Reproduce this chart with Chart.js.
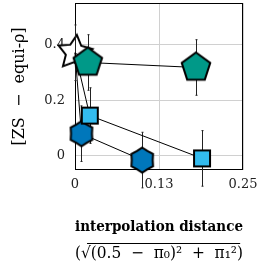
<!DOCTYPE html>
<html><head><meta charset="utf-8">
<script src="https://cdn.jsdelivr.net/npm/chart.js@4"></script>
<style>html,body{margin:0;padding:0;background:#fff}canvas{display:block}</style>
</head><body>
<canvas id="c" width="259" height="273"></canvas>
<script>
// ---- data ----
const xTickValues = [0, 0.125, 0.25];
const xTickLabels = ['0', '0.13', '0.25'];
const yTickValues = [0, 0.2, 0.4];
const yTickLabels = ['0', '0.2', '0.4'];

const baselineX = [0];
const baselineY = [0.371];
const baselineErr = [0.1];

const tealX = [0, 0.019, 0.180];
const tealY = [0.371, 0.336, 0.318];
const tealErr = [null, 0.1, 0.1];

const cyanX = [0, 0.022, 0.189];
const cyanY = [0.371, 0.145, -0.009];
const cyanErr = [null, 0.1, 0.1];

const blueX = [0, 0.0096, 0.100];
const blueY = [0.371, 0.080, -0.015];
const blueErr = [null, 0.1, 0.1];

const xTitle = 'interpolation distance';
const xSubTitle = '(√(0.5  −  π₀)²  +  π₁²)';
const subPrefix = '(√';
const yTitle = '[ZS  −  equi-ρ]';

// ---- marker images ----
function marker(r, draw) {
  const s = Math.ceil(2 * (r + 3));
  const c = document.createElement('canvas'); c.width = s; c.height = s;
  const g = c.getContext('2d'); g.translate(s / 2, s / 2); draw(g); return c;
}
function polyStar(g, n, R, ratio, rotDeg, fill) {
  g.beginPath();
  const steps = ratio ? 2 * n : n;
  for (let i = 0; i < steps; i++) {
    const a = (-90 + rotDeg + i * 360 / steps) * Math.PI / 180;
    const rr = (ratio && i % 2) ? R * ratio : R;
    const px = rr * Math.cos(a), py = rr * Math.sin(a);
    if (i) g.lineTo(px, py); else g.moveTo(px, py);
  }
  g.closePath(); g.fillStyle = fill; g.fill();
  g.lineWidth = 2; g.lineJoin = 'miter'; g.strokeStyle = '#000'; g.stroke();
}
const starImg = marker(19, g => polyStar(g, 5, 18, 0.52, 6, '#ffffff'));
const pentImg = marker(16, g => polyStar(g, 5, 15, 0, 0, '#009988'));
const sqImg = marker(10, g => { g.beginPath(); g.rect(-8, -8, 16, 16); g.fillStyle = '#33bbee'; g.fill(); g.lineWidth = 2; g.strokeStyle = '#000'; g.stroke(); });
const hexImg = marker(13, g => polyStar(g, 6, 12.5, 0.84, 0, '#0077bb'));

const pts = (xs, ys) => xs.map((x, i) => ({x: x, y: ys[i]}));
const errorSets = [baselineErr, blueErr, cyanErr, tealErr];

const datasets = [
  {data: pts(baselineX, baselineY), pointStyle: starImg, pointRadius: 8, showLine: false, order: 10},
  {data: pts(blueX, blueY), pointStyle: hexImg, pointRadius: [0, 8, 8], order: 3},
  {data: pts(cyanX, cyanY), pointStyle: sqImg, pointRadius: [0, 8, 8], order: 2},
  {data: pts(tealX, tealY), pointStyle: pentImg, pointRadius: [0, 8, 8], order: 1}
].map(d => Object.assign({borderColor: '#000', borderWidth: 1, tension: 0, clip: false, pointBorderWidth: 0}, d));

const serif = 'DejaVu Serif';
function noPad(s) { s.paddingTop = 0; s.paddingBottom = 0; s.paddingLeft = 0; s.paddingRight = 0; }

const framePlugin = {
  id: 'frame',
  beforeDatasetsDraw(chart) {
    const {ctx, chartArea: a} = chart;
    ctx.save(); ctx.strokeStyle = '#000'; ctx.lineWidth = 1;
    ctx.strokeRect(Math.round(a.left) + 0.5, Math.round(a.top) + 0.5, Math.round(a.right - a.left) - 1, Math.round(a.bottom - a.top) - 1);
    ctx.restore();
  }
};
const errPlugin = {
  id: 'errbars',
  afterDatasetDraw(chart, args) {
    if (args.index !== 0) return;
    const {ctx, scales: {x, y}} = chart;
    ctx.save(); ctx.strokeStyle = '#222'; ctx.lineWidth = 1;
    chart.data.datasets.forEach((ds, di) => {
      ds.data.forEach((p, i) => {
        const e = errorSets[di][i]; if (e == null) return;
        const px = Math.round(x.getPixelForValue(p.x)) + 0.5;
        const y1 = y.getPixelForValue(p.y + e), y2 = y.getPixelForValue(p.y - e);
        ctx.beginPath(); ctx.moveTo(px, y1); ctx.lineTo(px, y2);
        ctx.moveTo(px - 1, y1); ctx.lineTo(px + 1, y1);
        ctx.moveTo(px - 1, y2); ctx.lineTo(px + 1, y2);
        ctx.stroke();
      });
    });
    ctx.restore();
  }
};
const overlinePlugin = {
  id: 'overline',
  afterDraw(chart) {
    const box = chart.boxes.find(b => b.options && b.options.text === xSubTitle);
    if (!box) return;
    const {ctx} = chart;
    const fs = box.options.font.size;
    ctx.save(); ctx.font = fs + 'px "' + serif + '"';
    const W = ctx.measureText(xSubTitle).width;
    const pre = ctx.measureText(subPrefix).width;
    const last = ctx.measureText(')').width;
    const cx = (box.left + box.right) / 2;
    const cy = box.top + box.options.padding.top + fs * 1.2 / 2;
    const x0 = cx - W / 2 + pre - 1, x1 = cx + W / 2 - last;
    const ly = Math.round(cy - fs * 0.62) + 0.5;
    ctx.strokeStyle = '#000'; ctx.lineWidth = 1;
    ctx.beginPath(); ctx.moveTo(x0, ly); ctx.lineTo(x1, ly); ctx.stroke();
    ctx.restore();
  }
};

new Chart(document.getElementById('c'), {
  type: 'line',
  data: {datasets: datasets},
  plugins: [framePlugin, errPlugin, overlinePlugin],
  options: {
    responsive: false, animation: false, devicePixelRatio: 1, events: [],
    layout: {autoPadding: false, padding: {top: 3, right: 16, left: 0, bottom: 0}},
    plugins: {
      legend: {display: false}, tooltip: {enabled: false},
      subtitle: {display: true, position: 'bottom', fullSize: false, text: xSubTitle, color: '#000',
        font: {family: serif, size: 16, weight: 'normal'}, padding: {top: 4, bottom: 10}}
    },
    scales: {
      x: {
        type: 'linear', min: 0, max: 0.25, position: 'bottom',
        afterBuildTicks(s) { s.ticks = xTickValues.map(v => ({value: v})); },
        afterFit(s) { s.height = 70; noPad(s); },
        grid: {color: '#d0d0d0', lineWidth: 1, drawTicks: false},
        border: {display: false},
        ticks: {padding: 7, color: '#222', autoSkip: false, maxRotation: 0, font: {family: serif, size: 13},
          callback: (v, i) => xTickLabels[i]},
        title: {display: true, text: xTitle, color: '#000', font: {family: serif, size: 14, weight: 'bold'}, padding: {top: 0, bottom: 4}}
      },
      y: {
        type: 'linear', min: -0.05, max: 0.55,
        afterBuildTicks(s) { s.ticks = yTickValues.map(v => ({value: v})); },
        afterFit(s) { s.width = 75; noPad(s); },
        grid: {color: '#d0d0d0', lineWidth: 1, drawTicks: false},
        border: {display: false},
        ticks: {padding: 10, color: '#222', autoSkip: false, font: {family: serif, size: 13},
          callback: (v, i) => yTickLabels[i]},
        title: {display: true, text: yTitle, color: '#000', font: {family: serif, size: 16}, padding: {top: 10, bottom: 0}}
      }
    }
  }
});
</script>
</body></html>
